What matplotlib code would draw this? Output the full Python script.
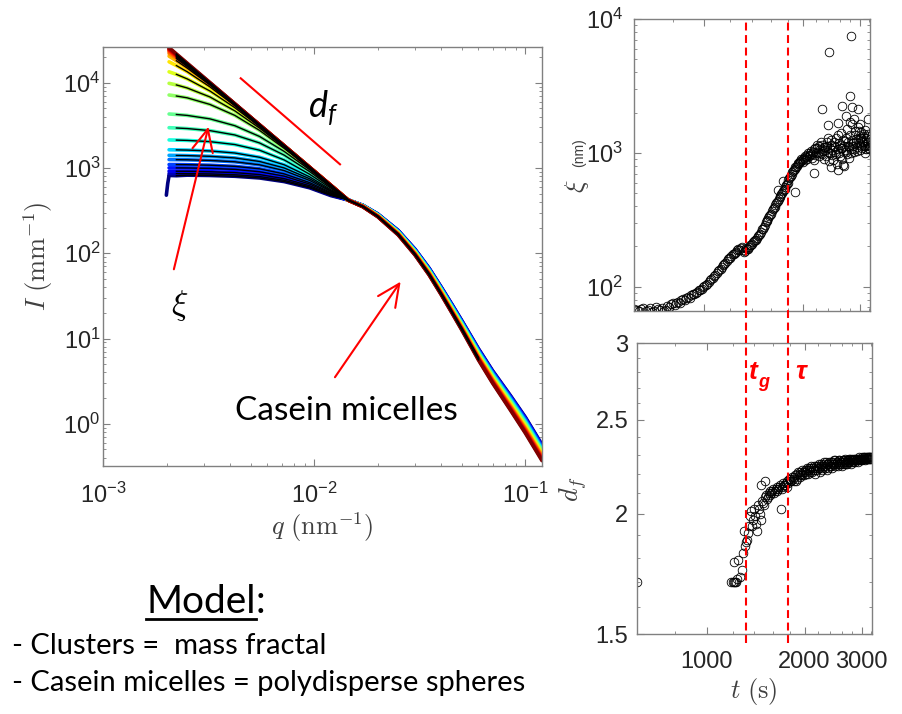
import matplotlib.pyplot as plt
import numpy as np
from matplotlib.lines import Line2D
from matplotlib.ticker import FixedLocator, FixedFormatter, NullFormatter
import matplotlib.transforms as mtransforms
from matplotlib.patches import ArrowStyle

plt.rcParams['font.family'] = ['Liberation Sans', 'DejaVu Sans']
plt.rcParams['mathtext.fontset'] = 'custom'
plt.rcParams['mathtext.rm'] = 'Liberation Sans'
plt.rcParams['mathtext.it'] = 'Lato:italic'
plt.rcParams['mathtext.bf'] = 'Liberation Sans:bold'

# ---- SAXS curves I(q): one row per frame, early (blue) -> late (dark red)
q_nm = [0.00205, 0.00222, 0.0025, 0.0032, 0.0042, 0.0055, 0.0072, 0.0095, 0.012, 0.0145,
        0.017, 0.020, 0.025, 0.030, 0.035, 0.040, 0.045, 0.050, 0.060, 0.070, 0.085, 0.100, 0.120]

I_scans = [
    [818, 812, 824, 817, 800, 764, 693, 586, 474, 422, 365, 289, 185, 112, 67.0, 40.0, 25.0, 16.3, 7.60, 4.20, 2.15, 1.20, 0.570],
    [862, 861, 859, 852, 833, 794, 717, 600, 484, 421, 364, 288, 184, 111, 66.5, 39.6, 24.8, 16.1, 7.50, 4.14, 2.12, 1.18, 0.560],
    [918, 916, 915, 904, 883, 837, 750, 620, 492, 421, 364, 287, 183, 110, 65.9, 39.3, 24.5, 15.9, 7.41, 4.08, 2.08, 1.16, 0.550],
    [1004, 1003, 1001, 989, 963, 904, 803, 648, 504, 421, 363, 286, 182, 110, 65.4, 38.9, 24.3, 15.8, 7.31, 4.03, 2.05, 1.14, 0.540],
    [1098, 1097, 1093, 1078, 1045, 978, 853, 675, 515, 420, 362, 285, 181, 109, 64.8, 38.6, 24.0, 15.6, 7.22, 3.97, 2.02, 1.12, 0.530],
    [1256, 1253, 1248, 1227, 1183, 1090, 932, 715, 530, 420, 362, 284, 180, 108, 64.3, 38.2, 23.8, 15.4, 7.12, 3.91, 1.98, 1.10, 0.520],
    [1408, 1404, 1397, 1371, 1312, 1193, 1001, 749, 541, 420, 361, 283, 179, 107, 63.8, 37.9, 23.5, 15.2, 7.03, 3.86, 1.95, 1.08, 0.510],
    [1637, 1631, 1622, 1585, 1499, 1336, 1091, 788, 556, 420, 360, 282, 178, 106, 63.2, 37.5, 23.3, 15.1, 6.93, 3.80, 1.92, 1.06, 0.500],
    [2134, 2125, 2106, 2038, 1884, 1617, 1243, 845, 578, 420, 360, 281, 177, 106, 62.7, 37.1, 23.0, 14.9, 6.84, 3.74, 1.88, 1.04, 0.490],
    [2969, 2946, 2901, 2745, 2440, 1967, 1415, 908, 595, 420, 359, 280, 176, 105, 62.2, 36.8, 22.8, 14.7, 6.74, 3.69, 1.85, 1.02, 0.480],
    [4298, 4242, 4136, 3770, 3134, 2345, 1565, 953, 608, 420, 358, 279, 175, 104, 61.6, 36.4, 22.5, 14.5, 6.65, 3.63, 1.82, 1.00, 0.475],
    [7177, 6985, 6648, 5567, 4141, 2763, 1698, 989, 616, 419, 358, 278, 174, 103, 61.1, 36.1, 22.3, 14.4, 6.55, 3.57, 1.78, 0.98, 0.465],
    [9836, 9421, 8674, 6814, 4681, 2938, 1753, 1005, 620, 419, 357, 277, 173, 103, 60.5, 35.7, 22.0, 14.2, 6.46, 3.51, 1.75, 0.96, 0.456],
    [13424, 12543, 11082, 8005, 5097, 3062, 1806, 1014, 622, 419, 356, 276, 172, 102, 60.0, 35.4, 21.8, 14.0, 6.36, 3.46, 1.72, 0.94, 0.446],
    [17600, 15890, 13440, 8944, 5375, 3140, 1807, 1015, 623, 419, 356, 275, 171, 101, 59.5, 35.0, 21.5, 13.8, 6.27, 3.40, 1.68, 0.92, 0.437],
    [20500, 18100, 14830, 9420, 5509, 3172, 1815, 1017, 623, 419, 355, 274, 170, 100, 58.9, 34.6, 21.3, 13.7, 6.17, 3.34, 1.65, 0.90, 0.427],
    [22000, 19180, 15470, 9623, 5561, 3186, 1818, 1018, 624, 419, 354, 273, 169, 99.4, 58.4, 34.3, 21.0, 13.5, 6.08, 3.29, 1.62, 0.88, 0.418],
    [23000, 19890, 15880, 9745, 5592, 3193, 1820, 1019, 624, 419, 354, 272, 168, 98.6, 57.9, 33.9, 20.8, 13.3, 5.98, 3.23, 1.58, 0.86, 0.408],
    [23800, 20430, 16190, 9834, 5615, 3198, 1821, 1019, 624, 419, 353, 271, 167, 97.9, 57.3, 33.6, 20.5, 13.1, 5.89, 3.17, 1.55, 0.84, 0.399],
    [24500, 20900, 16450, 9910, 5633, 3200, 1822, 1019, 624, 419, 352, 270, 166, 97.1, 56.8, 33.2, 20.3, 13.0, 5.79, 3.11, 1.52, 0.82, 0.389],
    [25100, 21300, 16670, 9971, 5650, 3206, 1823, 1019, 624, 419, 352, 269, 165, 96.3, 56.2, 32.9, 20.0, 12.8, 5.70, 3.06, 1.48, 0.80, 0.380],
    [25800, 21780, 16950, 10070, 5680, 3215, 1826, 1020, 624, 419, 351, 268, 164, 95.5, 55.7, 32.5, 19.8, 12.6, 5.60, 3.00, 1.45, 0.78, 0.370],
]
# first frame: detector edge points at the lowest q
scan0_edge_q = [0.00199, 0.00202]
scan0_edge_I = [480, 660]

# q range covered by the model fits (black lines)
fit_q_min = 0.0022
fit_q_max = [0.0145] * 17 + [0.06] * 5

# ---- fitted parameters vs time
t_xi = [610, 630, 650, 670, 690, 710, 730, 750, 770, 790, 810, 830, 850, 870, 890, 910, 930, 950,
        970, 990, 1010, 1030, 1050, 1070, 1090, 1110, 1130, 1150, 1170, 1190, 1210, 1230, 1250,
        1270, 1290, 1310, 1330, 1350, 1370, 1390, 1410, 1430, 1450, 1470, 1490, 1510, 1530, 1550,
        1570, 1590, 1610, 1630, 1650, 1670, 1690, 1710, 1730, 1750, 1770, 1790, 1810, 1830, 1850,
        1870, 1890, 1910, 1930, 1950, 1970, 1990, 2010, 2030, 2050, 2070, 2090, 2110, 2130, 2150,
        2170, 2190, 2210, 2230, 2250, 2270, 2290, 2310, 2330, 2350, 2370, 2390, 2410, 2430, 2450,
        2470, 2490, 2510, 2530, 2550, 2570, 2590, 2610, 2630, 2650, 2670, 2690, 2710, 2730, 2750,
        2770, 2790, 2810, 2830, 2850, 2870, 2890, 2910, 2930, 2950, 2970, 2990, 3010, 3030, 3050,
        3070, 3090, 3110, 3130, 3150, 3170, 3190, 3210,
        620, 640, 660, 680, 700, 720, 740, 760, 780, 800, 820, 840, 860, 880, 900, 920, 940, 960,
        980, 1000, 1020, 1040, 1060, 1080, 1100, 1120, 1140, 1160, 1180, 1200, 1220, 1240, 1260,
        1280, 1300, 1320, 1340, 1360, 1380, 1400, 1420, 1440, 1460, 1480, 1500, 1520, 1540, 1560,
        1580, 1600, 1620, 1640, 1660, 1680, 1700, 1720, 1740, 1760, 1780, 1800, 1820, 1840, 1860,
        1880, 1900, 1920, 1940, 1960, 1980, 2000, 2020, 2040, 2060, 2080, 2100, 2120, 2140, 2160,
        2180, 2200, 2220, 2240, 2260, 2280, 2300, 2320, 2340, 2360, 2380, 2400, 2420, 2440, 2460,
        2480, 2500, 2520, 2540, 2560, 2580, 2600, 2620, 2640, 2660, 2680, 2700, 2720, 2740, 2760,
        2780, 2800, 2820, 2840, 2860, 2880, 2900, 2920, 2940, 2960, 2980, 3000, 3020, 3040, 3060,
        3080, 3100, 3120, 3140, 3160, 3180, 3200, 3220,
        2410, 2809, 2795, 2297, 2395, 2573, 2647, 2826, 2965, 3168, 2442, 2563, 2168, 2664, 1896,
        1685, 1740, 2880, 3000, 3100, 3200, 2720]
xi = [68, 66, 69, 67, 65, 70, 67, 66, 72, 74, 73, 77, 80, 79, 84, 86, 88, 92,
      95, 99, 103, 108, 114, 120, 127, 134, 141, 148, 156, 163, 170, 176, 183,
      190, 194, 189, 186, 192, 198, 206, 214, 222, 232, 243, 258, 272, 290, 310,
      328, 346, 365, 385, 410, 432, 455, 480, 505, 530, 560, 590, 625, 660, 700,
      730, 760, 790, 820, 845, 870, 880, 905, 890, 930, 960, 940, 1000, 915, 1010,
      1060, 960, 1080, 1020, 1120, 990, 1150, 1040, 900, 1100, 1200, 1010, 870, 1080, 1250,
      960, 1130, 1020, 1300, 830, 1060, 1180, 950, 1400, 1090, 800, 1230, 1010, 1500, 1120,
      920, 1350, 1060, 1640, 1180, 1020, 1450, 1270, 1100, 1560, 1190, 1300, 1050, 1420, 1220,
      1330, 1130, 1480, 1250, 1180, 1390, 1120, 1260,
      67, 68, 66, 69, 66, 68, 69, 67, 71, 75, 76, 76, 81, 82, 83, 88, 89, 94,
      96, 101, 104, 112, 116, 123, 131, 136, 146, 150, 161, 165, 174, 178, 188,
      187, 197, 183, 195, 190, 205, 208, 220, 224, 240, 248, 268, 278, 302, 316,
      340, 352, 378, 392, 425, 438, 470, 490, 520, 540, 580, 600, 650, 670, 720,
      740, 780, 800, 840, 850, 900, 860, 920, 950, 900, 990, 970, 1040, 980, 890,
      1090, 1000, 1150, 950, 1060, 1210, 980, 1100, 1050, 940, 1130, 1280, 1000, 1150, 1050,
      880, 1200, 1100, 980, 1350, 1000, 1150, 1080, 900, 1250, 1120, 1050, 1300, 980, 1200,
      1100, 1700, 1000, 1250, 1130, 1060, 1350, 1200, 1040, 1250, 1450, 1150, 1300, 1080, 1200,
      1380, 1120, 1280, 1060, 1330, 1200, 1080, 1150,
      5700, 7460, 2670, 2140, 1615, 1680, 2240, 2190, 2120, 1780, 788, 743, 703, 811, 512,
      527, 620, 1800, 1650, 1000, 1060, 1900]

t_df = [608, 1190, 1200, 1210, 1210, 1230, 1250, 1265, 1290, 1300, 1310, 1330, 1350, 1370, 1390,
        1410, 1430, 1450, 1466, 1470, 1490, 1510, 1510, 1530, 1550, 1570, 1590, 1610, 1630, 1650,
        1670, 1690, 1710, 1730, 1750, 1770, 1790, 1810, 1830, 1850, 1870, 1890, 1910, 1930, 1950,
        1970, 1990, 2010, 2030, 2050, 2070, 2090, 2110, 2130, 2150, 2170, 2190, 2210, 2230, 2250,
        2270, 2290, 2310, 2330, 2350, 2370, 2390, 2410, 2430, 2450, 2470, 2490, 2510, 2530, 2550,
        2570, 2590, 2610, 2630, 2650, 2670, 2690, 2710, 2730, 2750, 2770, 2790, 2810, 2830, 2850,
        2870, 2890, 2910, 2930, 2950, 2970, 2990, 3010, 3030, 3050, 3070, 3090, 3110, 3130, 3150,
        3170, 3190, 3210,
        1220, 1240, 1280, 1320, 1340, 1360, 1380, 1400, 1420, 1440, 1460, 1480, 1500, 1520, 1540,
        1560, 1580, 1600, 1620, 1640, 1660, 1680, 1700, 1720, 1740, 1760, 1780, 1800, 1820, 1840,
        1860, 1880, 1900, 1920, 1940, 1960, 1980, 2000, 2020, 2040, 2060, 2080, 2100, 2120, 2140,
        2160, 2180, 2200, 2220, 2240, 2260, 2280, 2300, 2320, 2340, 2360, 2380, 2400, 2420, 2440,
        2460, 2480, 2500, 2520, 2540, 2560, 2580, 2600, 2620, 2640, 2660, 2680, 2700, 2720, 2740,
        2760, 2780, 2800, 2820, 2840, 2860, 2880, 2900, 2920, 2940, 2960, 2980, 3000, 3020, 3040,
        3060, 3080, 3100, 3120, 3140, 3160, 3180, 3200, 3220]
df = [1.70, 1.70, 1.70, 1.70, 1.78, 1.70, 1.79, 1.72, 1.82, 1.92, 1.85, 1.88, 1.94, 2.01, 1.97,
      1.99, 1.92, 2.02, 2.14, 1.97, 2.05, 2.08, 2.16, 2.07, 2.10, 2.09, 2.11, 2.10, 2.12, 2.11,
      2.13, 2.02, 2.12, 2.14, 2.15, 2.13, 2.17, 2.16, 2.18, 2.16, 2.19, 2.17, 2.21, 2.18, 2.20,
      2.22, 2.19, 2.21, 2.23, 2.20, 2.22, 2.24, 2.21, 2.23, 2.20, 2.24, 2.22, 2.25, 2.21, 2.24,
      2.22, 2.25, 2.23, 2.26, 2.22, 2.25, 2.24, 2.26, 2.23, 2.25, 2.27, 2.24, 2.26, 2.24, 2.27,
      2.25, 2.26, 2.24, 2.27, 2.25, 2.28, 2.26, 2.25, 2.27, 2.26, 2.28, 2.25, 2.27, 2.26, 2.28,
      2.26, 2.27, 2.28, 2.26, 2.28, 2.27, 2.28, 2.27, 2.28, 2.29, 2.27, 2.28, 2.29, 2.28, 2.29,
      2.28, 2.29, 2.28,
      1.70, 1.71, 1.75, 1.87, 1.91, 1.99, 1.94, 2.02, 1.95, 2.04, 2.00, 2.06, 2.04, 2.09, 2.08,
      2.11, 2.10, 2.12, 2.11, 2.13, 2.12, 2.14, 2.13, 2.15, 2.14, 2.16, 2.15, 2.17, 2.16, 2.17,
      2.18, 2.16, 2.20, 2.19, 2.21, 2.19, 2.21, 2.22, 2.20, 2.22, 2.23, 2.21, 2.23, 2.22, 2.24,
      2.22, 2.23, 2.24, 2.23, 2.25, 2.23, 2.24, 2.26, 2.24, 2.25, 2.23, 2.26, 2.25, 2.24, 2.26,
      2.25, 2.27, 2.25, 2.26, 2.25, 2.27, 2.26, 2.25, 2.27, 2.26, 2.27, 2.25, 2.27, 2.26, 2.28,
      2.27, 2.26, 2.28, 2.27, 2.27, 2.28, 2.27, 2.28, 2.27, 2.29, 2.28, 2.27, 2.29, 2.28, 2.28,
      2.29, 2.28, 2.29, 2.28, 2.29, 2.29, 2.28, 2.29, 2.29]

t_gel = 1319      # gel time t_g (s)
t_tau = 1784      # tau (s)

# guide line for the fractal slope on the I(q) panel
df_guide_q = [4.48e-3, 1.324e-2]
df_guide_I = [11270, 1105]

AX_GRAY = '#808080'
TXT = '#262626'
LBL = '#404040'

fig = plt.figure(figsize=(9.03, 7.14), dpi=100)

# ---------------- I(q) panel ----------------
ax = fig.add_axes([0.1144, 0.3473, 0.4858, 0.5864])
ax.set_xscale('log')
ax.set_yscale('log')
q = np.array(q_nm)
colors = plt.cm.jet(np.linspace(0, 1, len(I_scans)))
ax.plot(scan0_edge_q + [q_nm[0]], scan0_edge_I + [I_scans[0][0]], color=colors[0], lw=2.6,
        solid_capstyle='round', zorder=2)
for row, c in zip(I_scans, colors):
    ax.plot(q, row, color=c, lw=2.6, solid_capstyle='round', zorder=2)
for row, qmax in zip(I_scans, fit_q_max):
    m = (q >= fit_q_min) & (q <= qmax)
    ax.plot(q[m], np.array(row)[m], color='k', lw=1.0, zorder=3)

ax.set_xlim(1e-3, 0.12)
ax.set_ylim(0.32, 2.6e4)

ax.plot(df_guide_q, df_guide_I, color='red', lw=1.5, zorder=4)
ax.text(9.33e-3, 3960, r'$d_f$', fontsize=26, color='k', ha='left', va='baseline')

arrow = dict(arrowstyle=ArrowStyle('->', head_length=1.6, head_width=0.75),
             color='red', lw=1.5, mutation_scale=10, shrinkA=0, shrinkB=0)
ax.annotate('', xy=(3.15e-3, 3050), xytext=(2.16e-3, 64.9), arrowprops=arrow, zorder=5)
ax.annotate('', xy=(0.02566, 46.5), xytext=(0.01253, 3.52), arrowprops=arrow, zorder=5)
ax.text(2.29e-3, 24.1, r'$\xi$', fontsize=25, math_fontfamily='cm', ha='center', va='center')
ax.text(0.0142, 1.42, 'Casein micelles', fontsize=24, family='Lato', ha='center', va='center')

ax.set_xlabel(r'$q\ (\mathrm{nm}^{-1})$', fontsize=19, math_fontfamily='cm', color=LBL, labelpad=2)
ax.set_ylabel(r'$I\ (\mathrm{mm}^{-1})$', fontsize=19, math_fontfamily='cm', color=LBL, labelpad=6)

# ---------------- xi(t) panel ----------------
ax_xi = fig.add_axes([0.7021, 0.5644, 0.2614, 0.4090])
ax_xi.set_xscale('log')
ax_xi.set_yscale('log')
ax_xi.plot(t_xi, xi, 'o', mfc='none', mec='k', ms=6.2, mew=0.6)
ax_xi.set_xlim(608, 3220)
ax_xi.set_ylim(65.8, 1e4)

# ---------------- d_f(t) panel ----------------
ax_df = fig.add_axes([0.7051, 0.1116, 0.2602, 0.4076])
ax_df.set_xscale('log')
ax_df.set_yscale('log')
ax_df.plot(t_df, df, 'o', mfc='none', mec='k', ms=6.2, mew=0.6)
ax_df.set_xlim(608, 3220)
ax_df.set_ylim(1.5, 3)
ax_df.yaxis.set_major_locator(FixedLocator([1.5, 2, 2.5, 3]))
ax_df.yaxis.set_major_formatter(FixedFormatter(['1.5', '2', '2.5', '3']))
ax_df.yaxis.set_minor_locator(FixedLocator([1.6, 1.7, 1.8, 1.9, 2.1, 2.2, 2.3, 2.4, 2.6, 2.7, 2.8, 2.9]))
ax_df.yaxis.set_minor_formatter(NullFormatter())
ax_df.set_xlabel(r'$t\ (\mathrm{s})$', fontsize=19, math_fontfamily='cm', color=LBL, labelpad=2)
ax_df.set_ylabel(r'$d_f$', fontsize=19, math_fontfamily='cm', color=LBL, labelpad=5)

for a in (ax_xi, ax_df):
    a.xaxis.set_major_locator(FixedLocator([1000, 2000, 3000]))
    a.xaxis.set_minor_locator(FixedLocator([800, 1200, 1400, 1600, 1800, 2200, 2400, 2600, 2800, 3200]))
    a.xaxis.set_minor_formatter(NullFormatter())
ax_xi.xaxis.set_major_formatter(NullFormatter())
ax_df.xaxis.set_major_formatter(FixedFormatter(['1000', '2000', '3000']))
ax_xi.yaxis.set_minor_formatter(NullFormatter())

for a, size, xpad, ypad in ((ax, 17, 12, 2), (ax_xi, 17, 12, 8), (ax_df, 17, 12, 6)):
    a.tick_params(which='both', direction='in', top=True, right=True,
                  color=AX_GRAY, labelcolor=TXT, labelsize=size)
    a.tick_params(which='major', length=5)
    a.tick_params(which='minor', length=2.5)
    a.tick_params(axis='x', pad=xpad)
    a.tick_params(axis='y', pad=ypad)
    for s in a.spines.values():
        s.set_color(AX_GRAY)
        s.set_linewidth(1.0)

# xi label: symbol plus small unit
fig.text(577 / 903, 1 - 186 / 714, r'$\xi$', fontsize=19, math_fontfamily='cm', rotation=90,
         ha='center', va='center', color=LBL)
fig.text(579 / 903, 1 - 153 / 714, '(nm)', fontsize=10, rotation=90, ha='center', va='center',
         color=LBL)

# t_g and tau markers spanning both right panels
blend = mtransforms.blended_transform_factory(ax_df.transData, fig.transFigure)
for tv in (t_gel, t_tau):
    fig.add_artist(Line2D([tv, tv], [1 - 643 / 714, 1 - 19 / 714], transform=blend,
                          color='red', lw=1.5, ls=(0, (3.8, 2.2))))
ax_df.text(1352, 2.80, 't', fontsize=19, fontweight='bold', fontstyle='italic', color='red',
           ha='left', va='center')
ax_df.text(1440, 2.73, 'g', fontsize=13, fontweight='bold', fontstyle='italic', color='red',
           ha='left', va='center')
ax_df.text(1870, 2.80, 'τ', fontsize=19, fontweight='bold', fontstyle='italic', color='red',
           ha='left', va='center')

# model description
fig.canvas.draw()
renderer = fig.canvas.get_renderer()
t_model = fig.text(146 / 903, 1 - 613 / 714, 'Model', fontsize=28, family='Lato',
                   ha='left', va='baseline')
bb = t_model.get_window_extent(renderer)
fig.text(bb.x1 / fig.bbox.width, 1 - 613 / 714, ':', fontsize=28, family='Lato',
         ha='left', va='baseline')
fig.add_artist(Line2D([bb.x0 / fig.bbox.width, bb.x1 / fig.bbox.width],
                      [1 - 619 / 714, 1 - 619 / 714], transform=fig.transFigure,
                      color='k', lw=2))
fig.text(12 / 903, 1 - 654 / 714, '- Clusters =  mass fractal', fontsize=21, family='Lato',
         ha='left', va='baseline')
fig.text(12 / 903, 1 - 690.7 / 714, '- Casein micelles = polydisperse spheres', fontsize=21,
         family='Lato', ha='left', va='baseline')

fig.savefig('out.png', dpi=100)
